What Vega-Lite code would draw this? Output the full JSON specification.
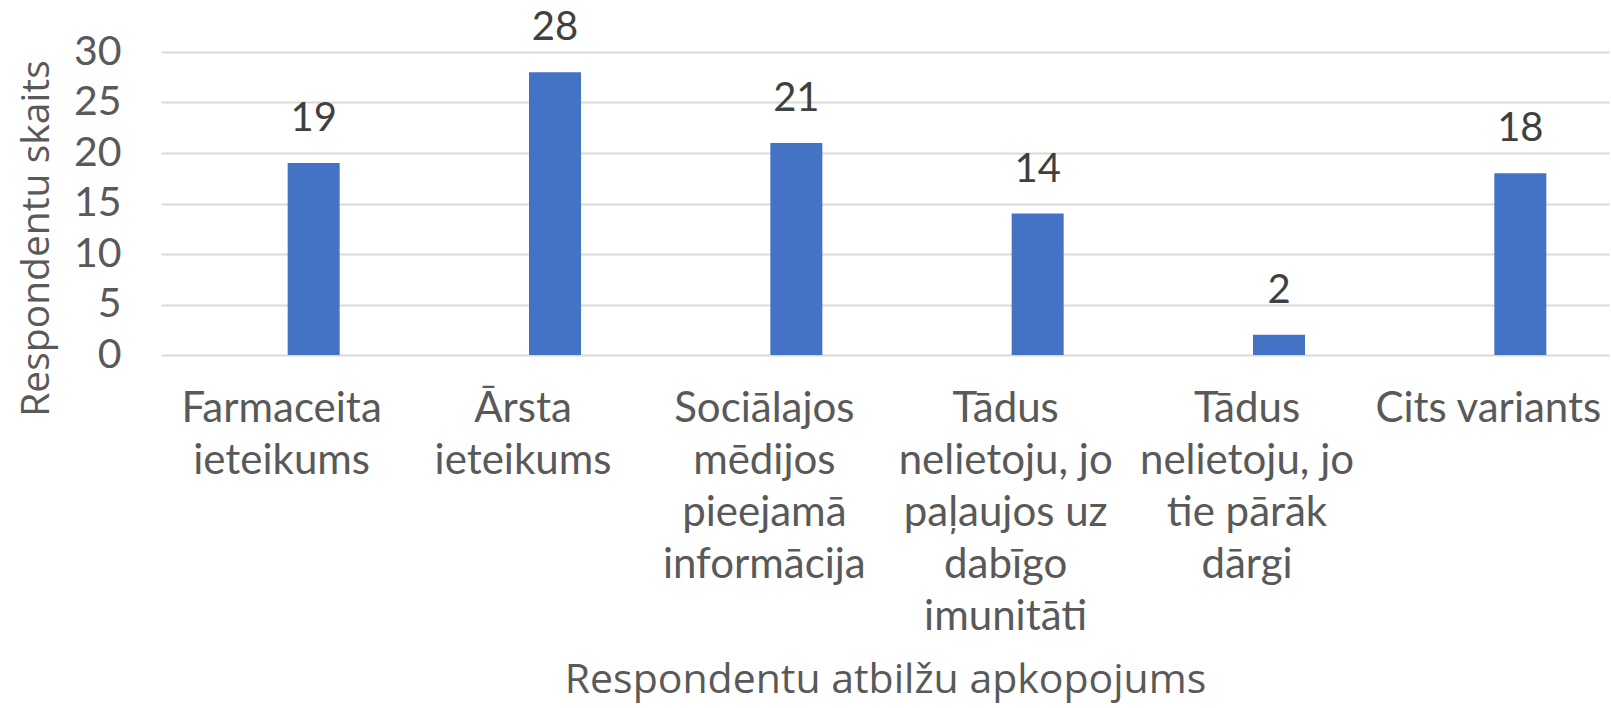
{
  "$schema": "https://vega.github.io/schema/vega-lite/v6.json",
  "width": 1448,
  "height": 303,
  "autosize": "none",
  "padding": {"left": 161, "top": 52, "right": 2, "bottom": 353},
  "background": "white",
  "config": {"view": {"stroke": null}, "font": "Lato"},
  "data": {
    "values": [
      {"answer": "Farmaceita ieteikums", "count": 19},
      {"answer": "Ārsta ieteikums", "count": 28},
      {"answer": "Sociālajos mēdijos pieejamā informācija", "count": 21},
      {"answer": "Tādus nelietoju, jo paļaujos uz dabīgo imunitāti", "count": 14},
      {"answer": "Tādus nelietoju, jo tie pārāk dārgi", "count": 2},
      {"answer": "Cits variants", "count": 18}
    ]
  },
  "encoding": {
    "x": {
      "field": "answer",
      "type": "nominal",
      "sort": null,
      "scale": {"paddingInner": 0, "paddingOuter": 0},
      "axis": {
        "title": "Respondentu atbilžu apkopojums",
        "titleFont": "Open Sans",
        "titleFontSize": 41,
        "titleFontWeight": "normal",
        "titleColor": "#595959",
        "titleY": 325,
        "titleBaseline": "middle",
        "labelAngle": 0,
        "labelFontSize": 42,
        "labelColor": "#595959",
        "labelLimit": 500,
        "labelOverlap": false,
        "labelBound": false,
        "labelLineHeight": 52,
        "labelPadding": 33,
        "labelBaseline": "top",
        "ticks": false,
        "domain": false,
        "grid": false,
        "labelExpr": "datum.value == 'Farmaceita ieteikums' ? ['Farmaceita','ieteikums'] : datum.value == 'Ārsta ieteikums' ? ['Ārsta','ieteikums'] : datum.value == 'Sociālajos mēdijos pieejamā informācija' ? ['Sociālajos','mēdijos','pieejamā','informācija'] : datum.value == 'Tādus nelietoju, jo paļaujos uz dabīgo imunitāti' ? ['Tādus','nelietoju, jo','paļaujos uz','dabīgo','imunitāti'] : datum.value == 'Tādus nelietoju, jo tie pārāk dārgi' ? ['Tādus','nelietoju, jo','tie pārāk','dārgi'] : datum.value"
      }
    },
    "y": {
      "field": "count",
      "type": "quantitative",
      "scale": {"domain": [0, 30], "nice": false},
      "axis": {
        "title": "Respondentu skaits",
        "titleFont": "Open Sans",
        "titleFontSize": 39,
        "titleFontWeight": "normal",
        "titleColor": "#595959",
        "titleX": -125,
        "titleY": 186,
        "titleAngle": -90,
        "titleAlign": "center",
        "titleBaseline": "middle",
        "values": [0, 5, 10, 15, 20, 25, 30],
        "labelFontSize": 41,
        "labelColor": "#595959",
        "labelPadding": 40,
        "ticks": false,
        "domain": false,
        "grid": true,
        "gridColor": "#d9d9d9",
        "gridWidth": 2
      }
    }
  },
  "layer": [
    {"mark": {"type": "bar", "color": "#4472C4", "width": 52, "xOffset": 32}},
    {
      "mark": {"type": "text", "xOffset": 32, "dy": -44, "baseline": "middle", "fontSize": 40, "color": "#404040"},
      "encoding": {"text": {"field": "count", "type": "quantitative"}}
    }
  ]
}
